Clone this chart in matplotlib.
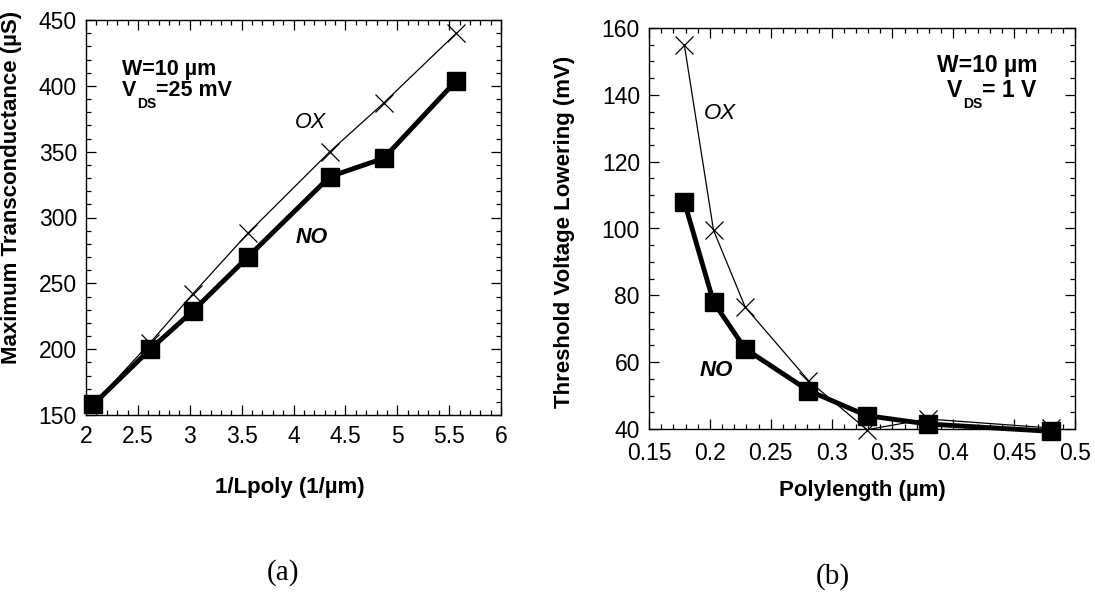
import matplotlib
matplotlib.use('Agg')
import matplotlib.pyplot as plt
from matplotlib.ticker import MultipleLocator

plt.rcParams['font.family'] = ['Liberation Sans', 'DejaVu Sans']

# (a) transconductance vs 1/Lpoly
inv_lpoly = [2.07, 2.62, 3.03, 3.56, 4.35, 4.87, 5.57]
gm_no = [158, 200, 229, 270, 331, 345, 404]
gm_ox = [158, 205, 242, 288, 350, 387, 440]

# (b) threshold voltage lowering vs polylength
polylen = [0.179, 0.203, 0.229, 0.281, 0.329, 0.379, 0.480]
dvt_no = [108, 78, 64, 51.5, 44, 41.5, 39.3]
dvt_ox = [155, 99.5, 76.5, 54.5, 39.8, 43, 40.3]

fig = plt.figure(figsize=(10.95, 5.92), dpi=100)
ax1 = fig.add_axes([86/1095, 1-415/592, 415/1095, 395/592])
ax2 = fig.add_axes([649/1095, 1-429/592, 426/1095, 401/592])


def style(ax, xpad):
    ax.tick_params(which='both', direction='in', top=True, right=True, width=0.9)
    ax.tick_params(which='major', length=7, labelsize=16.5)
    ax.tick_params(which='minor', length=3.5)
    ax.tick_params(axis='x', pad=xpad)
    ax.tick_params(axis='y', pad=6.5)
    for s in ax.spines.values():
        s.set_linewidth(1.0)


def draw(ax, x, no, ox):
    ax.plot(x, ox, color='black', lw=0.9, marker='x', ms=13, mew=0.9, zorder=3, clip_on=False)
    ax.plot(x, no, color='black', lw=3.5, marker='s', ms=13, zorder=4, clip_on=False)


def vds(ax, x, y, rest, size):
    v = ax.text(x, y, 'V', fontsize=size, fontweight='bold', ha='left', va='baseline')
    ds = ax.annotate('DS', xy=(1, 0), xycoords=v, xytext=(0.5, -4.5), textcoords='offset points',
                     fontsize=10, fontweight='bold', ha='left', va='baseline')
    ax.annotate(rest, xy=(1, 0), xycoords=(ds, v), fontsize=size, fontweight='bold',
                ha='left', va='bottom')


# panel (a)
draw(ax1, inv_lpoly, gm_no, gm_ox)
ax1.set_xlim(2, 6)
ax1.set_ylim(150, 450)
ax1.xaxis.set_major_locator(MultipleLocator(0.5))
ax1.xaxis.set_minor_locator(MultipleLocator(0.1))
ax1.yaxis.set_major_locator(MultipleLocator(50))
ax1.yaxis.set_minor_locator(MultipleLocator(10))
ax1.set_xticks([2, 2.5, 3, 3.5, 4, 4.5, 5, 5.5, 6], ['2', '2.5', '3', '3.5', '4', '4.5', '5', '5.5', '6'])
style(ax1, 7.5)
ax1.set_xlabel('1/Lpoly (1/\u00b5m)', fontsize=16, fontweight='bold')
ax1.set_ylabel('Maximum Transconductance (\u00b5S)', fontsize=16, fontweight='bold')
ax1.xaxis.set_label_coords(0.492, -0.157)
ax1.yaxis.set_label_coords(-0.154, 0.577)
ax1.text(2.347, 408, 'W=10 \u00b5m', fontsize=15.5, fontweight='bold', ha='left', va='baseline')
vds(ax1, 2.347, 392, '=25 mV', 15.5)
ax1.text(4.16, 372, 'OX', fontsize=15.5, fontstyle='italic', ha='center', va='center')
ax1.text(4.175, 285, 'NO', fontsize=15.5, fontstyle='italic', fontweight='bold', ha='center', va='center')

# panel (b)
draw(ax2, polylen, dvt_no, dvt_ox)
ax2.set_xlim(0.15, 0.5)
ax2.set_ylim(40, 160)
ax2.xaxis.set_major_locator(MultipleLocator(0.05))
ax2.xaxis.set_minor_locator(MultipleLocator(0.01))
ax2.yaxis.set_major_locator(MultipleLocator(20))
ax2.yaxis.set_minor_locator(MultipleLocator(5))
ax2.set_xticks([0.15, 0.2, 0.25, 0.3, 0.35, 0.4, 0.45, 0.5],
               ['0.15', '0.2', '0.25', '0.3', '0.35', '0.4', '0.45', '0.5'])
style(ax2, 9.5)
ax2.set_xlabel('Polylength (\u00b5m)', fontsize=16, fontweight='bold')
ax2.set_ylabel('Threshold Voltage Lowering (mV)', fontsize=16, fontweight='bold')
ax2.xaxis.set_label_coords(0.502, -0.127)
ax2.yaxis.set_label_coords(-0.174, 0.491)
ax2.text(0.387, 146.9, 'W=10 \u00b5m', fontsize=16.5, fontweight='bold', ha='left', va='baseline')
vds(ax2, 0.395, 139.4, '= 1 V', 16.5)
ax2.text(0.208, 134.4, 'OX', fontsize=16, fontstyle='italic', ha='center', va='center')
ax2.text(0.205, 57.4, 'NO', fontsize=16, fontstyle='italic', fontweight='bold', ha='center', va='center')

fig.text(283/1095, 1-573/592, '(a)', fontsize=21, family='Liberation Serif', ha='center', va='center')
fig.text(833/1095, 1-577/592, '(b)', fontsize=21, family='Liberation Serif', ha='center', va='center')

fig.savefig('out.png', dpi=100)
